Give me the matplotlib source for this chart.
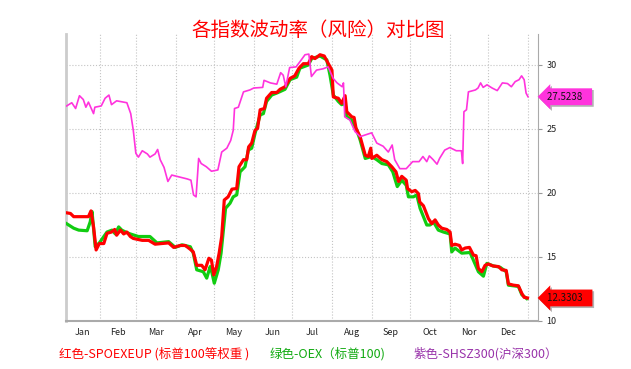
import matplotlib
matplotlib.use("Agg")
import matplotlib.pyplot as plt
import matplotlib.patheffects as pe

plt.rcParams["font.family"] = ["Noto Sans CJK SC", "DejaVu Sans"]

# x = day of year, y = volatility
months = ["Jan", "Feb", "Mar", "Apr", "May", "Jun",
          "Jul", "Aug", "Sep", "Oct", "Nor", "Dec"]
month_ends = [31, 59, 90, 120, 151, 181, 212, 243, 273, 304, 334, 365]

red_day = [5, 8, 10.5, 16, 22, 24, 26, 28, 30.5, 34, 36.5, 40, 42.5, 44, 47,
           49.5, 52, 54.7, 57, 64, 69, 74, 79, 84.6, 88.5, 93.7, 97.6, 101.5,
           103.8, 106.5, 110.4, 113, 116, 118, 119.8, 122, 124, 126, 128, 131,
           134, 137.7, 139.5, 143, 145.5, 147, 149.4, 152, 154, 156, 159.3,
           161, 165, 169, 171.5, 175.4, 179.3, 183, 186.3, 189.7, 193.6, 196.2,
           198.8, 202.7, 206, 209.2, 212, 213.1, 217, 219.6, 222.3, 223.6,
           227.5, 229.3, 230.8, 234, 238, 240.4, 242.3, 243.1, 247, 251, 254.8,
           258.7, 262, 264, 266.5, 270, 271, 274.3, 277, 279.5, 280.5, 283.4,
           287.3, 290, 292.5, 295, 297.7, 301.6, 304.2, 305.5, 308, 311.5,
           313.3, 316, 319.3, 322.4, 324.5, 326.3, 329, 331.5, 334, 337.6, 342,
           344.6, 348, 349.7, 353.6, 357.5, 360.2, 362, 364.6]
red_val = [18.45, 18.4, 18.15, 18.15, 18.15, 18.6, 17.35, 15.55, 16.05, 16.05,
           16.85, 16.95, 17.15, 16.7, 17.1, 16.8, 16.95, 16.6, 16.45, 16.3,
           16.3, 16.0, 16.05, 16.1, 15.75, 15.9, 15.9, 15.6, 15.4, 14.35, 14.35,
           14.0, 14.9, 14.75, 13.6, 14.25, 15.3, 16.6, 19.45, 19.7, 20.3, 20.35,
           22.05, 22.6, 22.6, 23.6, 23.9, 24.9, 25.05, 26.5, 26.6, 27.4, 27.85,
           27.85, 28.1, 28.3, 28.95, 29.15, 29.75, 30.1, 30.1, 30.65, 30.5,
           30.8, 30.7, 30.1, 29.6, 27.5, 27.4, 27.0, 27.6, 26.35, 25.95, 25.9,
           25.05, 24.4, 22.95, 22.85, 23.5, 22.7, 22.95, 22.6, 22.45, 22.05,
           21.65, 20.9, 21.3, 21.0, 20.35, 20.1, 20.2, 19.95, 19.3, 19.0, 18.0,
           17.6, 17.9, 17.5, 17.25, 17.15, 16.95, 15.9, 16.0, 15.9, 15.55, 15.7,
           15.75, 15.15, 15.1, 14.1, 13.85, 14.35, 14.45, 14.3, 14.25, 14.0,
           13.95, 12.9, 12.8, 12.75, 12.15, 11.85, 11.8]

green_day = [5, 10.5, 14.4, 21, 23.4, 24.8, 27.3, 30.5, 36.5, 40.4, 43, 45.6,
             48, 52, 54.7, 61, 70, 75.5, 84.6, 89.8, 95, 101.5, 103.8, 106.5,
             111.6, 114.3, 117, 118.2, 120.2, 123.3, 125.5, 129, 132.5, 135,
             137.7, 140.3, 144.2, 146.8, 149.4, 152, 156, 158.5, 161, 165, 170,
             175.4, 179.3, 184.5, 187, 193.6, 196.2, 202.7, 208, 210.5, 213.1,
             217, 219.6, 222.3, 223.6, 227.5, 231.4, 234, 238, 243, 247, 251,
             256, 259.5, 263, 266.5, 270, 271.7, 275.6, 278.2, 280.8, 286,
             288.6, 291.2, 295, 299, 304.2, 305.5, 308, 313.3, 319.8, 322.4,
             326.3, 330.2, 332.9, 338, 343.2, 348, 349.7, 357.5, 360.2, 364]
green_val = [17.6, 17.25, 17.1, 17.05, 17.75, 18.55, 15.8, 16.1, 16.95, 17.1,
             16.8, 17.35, 17.1, 16.9, 16.8, 16.6, 16.6, 16.1, 16.2, 15.75,
             15.95, 15.8, 15.3, 14.0, 13.85, 13.35, 14.25, 13.85, 12.95, 14.0,
             15.3, 18.8, 19.2, 19.7, 19.85, 21.65, 22.05, 23.35, 23.5, 24.65,
             26.1, 26.2, 27.15, 27.65, 27.85, 28.1, 28.85, 29.05, 29.75, 30.0,
             30.5, 30.7, 30.4, 29.2, 27.65, 27.15, 26.9, 27.0, 25.95, 25.7,
             24.9, 24.15, 22.7, 22.85, 22.6, 22.3, 22.2, 21.65, 20.5, 21.0,
             20.6, 19.7, 19.7, 19.85, 18.8, 17.5, 17.5, 17.75, 17.1, 16.95,
             16.8, 15.4, 15.7, 15.3, 15.35, 14.75, 13.85, 13.5, 14.5, 14.3,
             14.2, 13.85, 12.8, 12.7, 12.05, 11.75]

purple_day = [5, 9, 12, 15, 18, 20, 22, 26, 27, 32, 35, 38, 40, 44, 52, 55,
              57, 59, 61, 64, 68, 70, 74, 76, 78, 81, 84, 87, 91, 95, 99, 102,
              104, 106, 108, 110, 114, 118, 123, 126, 130, 133, 135, 136, 139,
              143, 148, 151, 158, 159, 164, 169, 172, 174, 176, 179, 184, 187,
              191, 194, 196, 200, 205, 209, 213, 216, 220, 221, 222, 226, 230,
              234, 240, 243, 247, 252, 256, 259, 261, 265, 270, 275, 280, 283,
              286, 288, 291, 294, 296, 300, 304, 309, 313, 314, 315, 317, 318.5,
              324, 326, 328, 330, 333, 337, 341, 345, 349, 352, 355, 358, 360,
              362, 363.5, 365]
purple_val = [26.8, 27.05, 26.6, 27.6, 27.3, 26.7, 27.1, 26.2, 26.7, 26.8,
              27.4, 27.65, 26.9, 27.2, 27.05, 26.2, 24.9, 23.1, 22.8, 23.3,
              23.05, 22.8, 23.05, 23.4, 22.6, 22.0, 20.9, 21.4, 21.3, 21.2,
              21.1, 21.0, 19.85, 19.7, 22.7, 22.3, 22.05, 21.7, 21.8, 23.2,
              23.5, 24.1, 24.9, 26.6, 26.7, 27.9, 28.05, 28.2, 28.25, 28.8,
              28.6, 28.5, 29.4, 29.2, 28.3, 29.8, 29.85, 30.25, 30.8, 30.85,
              29.1, 29.6, 29.7, 29.85, 28.95, 28.6, 28.3, 28.6, 25.95, 25.7,
              24.8, 24.4, 24.6, 24.7, 23.9, 23.65, 23.2, 23.75, 22.6, 21.9,
              21.9, 22.45, 22.45, 22.85, 22.45, 22.9, 22.6, 22.25, 22.7, 23.35,
              23.55, 23.3, 23.3, 22.3, 26.35, 26.5, 27.9, 28.05, 28.2, 28.6,
              28.25, 28.45, 28.2, 28.0, 28.6, 28.55, 28.3, 28.7, 28.85, 29.15,
              28.85, 27.8, 27.52]

red_label = "12.3303"
purple_label = "27.5238"

fig = plt.figure(figsize=(6.31, 3.69), dpi=100)
ax = fig.add_axes([66 / 631, 48 / 369, 472 / 631, 287 / 369])

ax.plot(green_day, green_val, color="#11cc11", lw=2.3, zorder=3)
ax.plot(red_day, red_val, color="#ff0000", lw=2.3, zorder=4)
ax.plot(purple_day, purple_val, color="#ff33dd", lw=1.2, zorder=5)

x0, x1 = 4.5, 372.8
ax.set_xlim(x0, x1)
ax.set_ylim(10, 32.42)

starts = [x0] + month_ends[:-1]
mids = [(a + b) / 2 for a, b in zip(starts, month_ends)]
ax.set_xticks(mids)
ax.set_xticklabels(months, fontsize=6.5, color="#222222")
ax.set_xticks(month_ends, minor=True)
ax.tick_params(axis="x", which="both", length=0, pad=5)

ax.yaxis.tick_right()
ax.set_yticks([10, 15, 20, 25, 30])
ax.tick_params(axis="y", labelsize=6.5, labelcolor="#222222", length=3,
               color="#999999", pad=3)

ax.grid(which="minor", axis="x", ls=":", color="#c4c4c4", lw=0.8)
ax.grid(which="major", axis="y", ls=":", color="#c4c4c4", lw=0.8)
ax.set_axisbelow(True)

ax.spines["top"].set_visible(False)
ax.spines["left"].set_color("#cccccc")
ax.spines["left"].set_linewidth(2)
ax.spines["right"].set_color("#aaaaaa")
ax.spines["bottom"].set_color("#aaaaaa")
ax.spines["bottom"].set_linewidth(1.5)

# value tags on the right, with a small gray shadow
for val, txt, fc in [(purple_val[-1], purple_label, "#ff33dd"),
                     (red_val[-1], red_label, "#ff0000")]:
    tag = ax.annotate(txt + "   ", xy=(1.0, val),
                      xycoords=("axes fraction", "data"),
                      xytext=(6.5, 0), textcoords="offset points",
                      fontsize=7, color="#111111", va="center", ha="left",
                      bbox=dict(boxstyle="larrow,pad=0.35", fc=fc, ec="none"),
                      annotation_clip=False, zorder=10)
    tag.get_bbox_patch().set_path_effects(
        [pe.SimplePatchShadow(offset=(1.2, -1.2), shadow_rgbFace="#a0a0a0",
                              alpha=0.8), pe.Normal()])

fig.text(318 / 631, 1 - 30 / 369, "各指数波动率（风险）对比图",
         color="#ff0000", fontsize=14, ha="center", va="center")

fig.text(154 / 631, 1 - 354 / 369, "红色-SPOEXEUP (标普100等权重 )",
         color="#ff0000", fontsize=9, ha="center", va="center")
fig.text(327 / 631, 1 - 354 / 369, "绿色-OEX（标普100)",
         color="#11aa11", fontsize=9, ha="center", va="center")
fig.text(486 / 631, 1 - 354 / 369, "紫色-SHSZ300(沪深300）",
         color="#9933aa", fontsize=9, ha="center", va="center")

fig.savefig("out.png", dpi=100, facecolor="white")
